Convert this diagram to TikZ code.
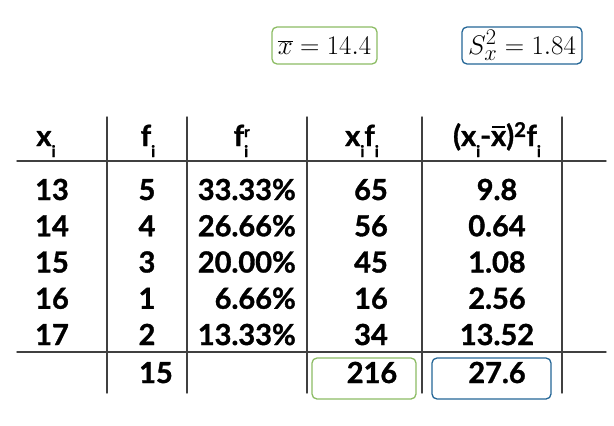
\documentclass[tikz,border=0pt]{standalone}
\usepackage{graphicx}
\usepackage{fontspec}
\setmainfont{Lato}[BoldFeatures={FakeBold=1.2}]
\definecolor{boxgreen}{RGB}{140,188,100}
\definecolor{boxblue}{RGB}{36,102,150}
\newcommand\subi{\raisebox{-11pt}{\fontsize{16}{16}\selectfont i}}
\newcommand\supr{\raisebox{9pt}{\fontsize{15}{15}\selectfont r}}
\newcommand\xbr{\ooalign{x\cr\hidewidth\rule[0.62em]{0.44em}{1.8pt}\hidewidth\cr}}
\tikzset{
  cell/.style={inner sep=0pt, font=\fontsize{29}{32}\selectfont\bfseries},
  head/.style={inner sep=0pt, anchor=base, font=\fontsize{29}{31}\selectfont\bfseries},
  tabline/.style={line width=1.4pt, black!75},
  totbox/.style={draw=#1, line width=1.3pt, rounded corners=5pt, inner sep=0pt},
  formula/.style={font=\Huge}
}
\begin{document}
\begin{tikzpicture}[x=1pt, y=-1pt, line join=round, line cap=round]
\useasboundingbox (0,0) rectangle (614,426);
% mean and variance
\node[totbox=boxgreen, formula, minimum width=105pt, minimum height=37pt] (mean) at (324.5,45.5) {\scalebox{1.08}{$\overline{x} = 14.4$}};
\node[totbox=boxblue, formula, minimum width=120pt, minimum height=37pt] (var) at (522,45.5) {\scalebox{1.08}{$S_x^2 = 1.84$}\hspace{5pt}};
% table rules
\draw[tabline] (17,161) -- (606,161);
\draw[tabline] (17,352) -- (606,352);
\foreach \c in {107,187,307,422,562}
\draw[tabline] (\c,117) -- (\c,393);
% header
\node[head] (hx) at (46,146) {x\subi};
\node[head] (hf) at (148,146) {f\subi};
\node[head] (hfr) at (241,146) {f\rlap{\supr}\subi};
\node[head] (hxf) at (362,146) {x\subi f\subi};
\node[head] (hd) at (497,146) {(x\subi-\xbr)\textsuperscript{2}f\subi};
% rows
\foreach \r/\xv/\fv/\frv/\xfv/\dv in {1/13/5/33.33/65/9.8, 2/14/4/26.66/56/0.64,
  3/15/3/20.00/45/1.08, 4/16/1/6.66/16/2.56, 5/17/2/13.33/34/13.52}{
  \pgfmathsetmacro\yb{163.75+36.25*\r}
  \node[cell, anchor=base west] (x\r) at (35,\yb) {\xv};
  \node[cell, anchor=base] (f\r) at (147,\yb) {\fv};
  \node[cell, anchor=base east] (fr\r) at (296,\yb) {\frv\%};
  \node[cell, anchor=base] (xf\r) at (371,\yb) {\xfv};
  \node[cell, anchor=base] (d\r) at (497,\yb) {\dv};
}
% totals
\node[totbox=boxgreen, minimum width=104pt, minimum height=41pt] (sumbox) at (364,378.5) {};
\node[totbox=boxblue, minimum width=119pt, minimum height=41pt] (varbox) at (491.5,378.5) {};
\node[cell, anchor=base] (ftot) at (156,383) {15};
\node[cell, anchor=base] (xftot) at (372,383) {216};
\node[cell, anchor=base] (dtot) at (497,383) {27.6};
\end{tikzpicture}
\end{document}
